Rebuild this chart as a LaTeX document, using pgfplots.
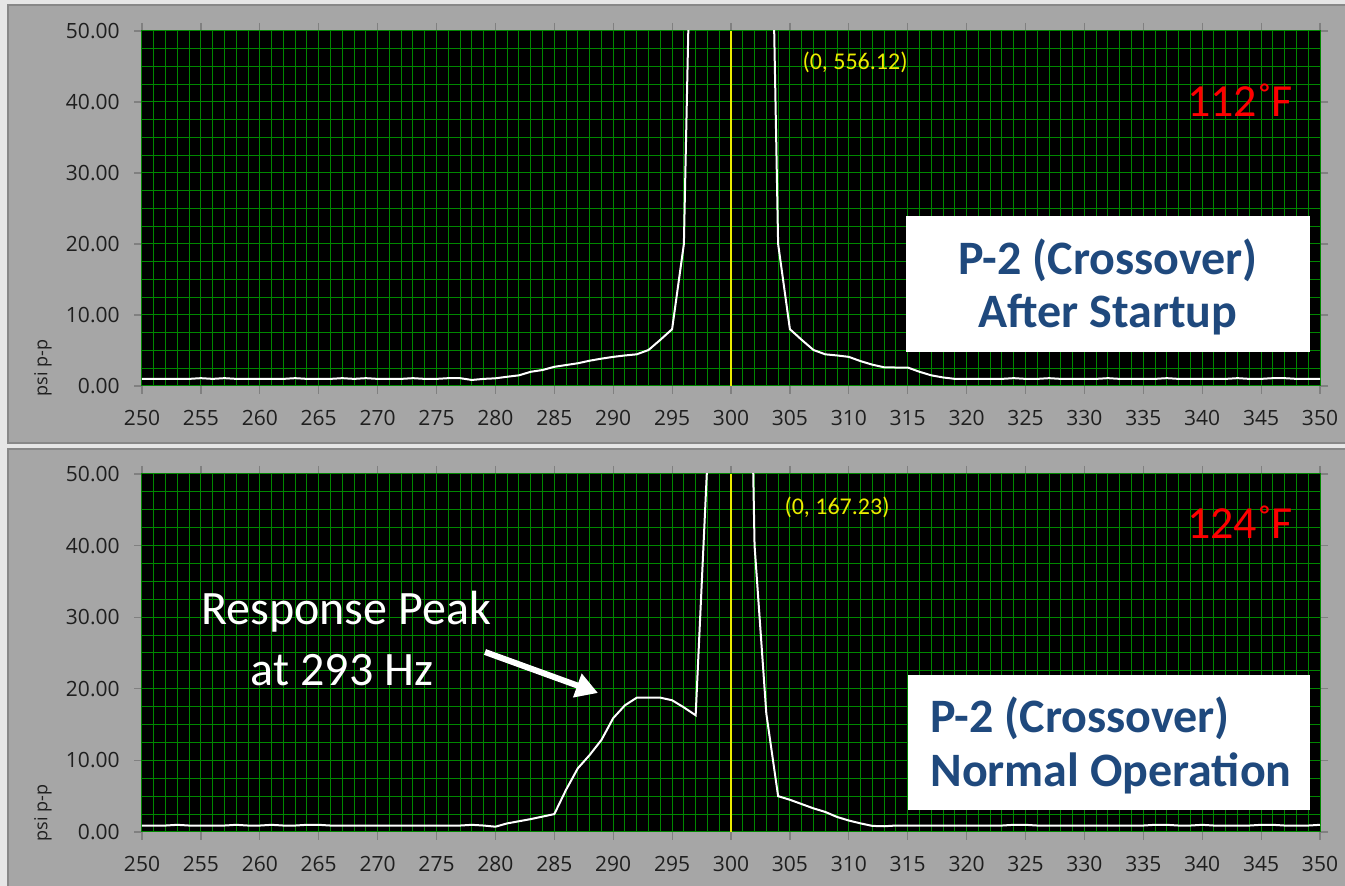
\documentclass[border=0pt]{standalone}
\usepackage{pgfplots}
\pgfplotsset{compat=1.18}
\usetikzlibrary{arrows.meta}
\usepackage{fontspec}
\setmainfont{Carlito}
\newfontfamily\tickfont{Open Sans}
\definecolor{gridgreen}{RGB}{0,135,0}
\definecolor{panelgray}{RGB}{166,166,166}
\definecolor{panelborder}{RGB}{136,136,136}
\definecolor{bgout}{RGB}{230,230,230}
\definecolor{navy}{RGB}{31,73,125}
\definecolor{ylw}{RGB}{235,235,0}
\definecolor{tickgray}{RGB}{128,128,128}
\pgfplotsset{
 panel/.style={
  width=589pt, scale only axis, xmin=250, xmax=350, ymin=0, ymax=50,
  xtick={250,255,...,350}, ytick={0,10,...,50},
  minor x tick num=4, minor y tick num=3,
  grid=both,
  major grid style={gridgreen, line width=0.5pt},
  minor grid style={gridgreen, line width=0.5pt},
  axis background/.style={fill=black},
  axis line style={gridgreen, line width=0.5pt},
  tick align=outside, major tick length=4pt, minor tick length=0pt,
  major tick style={tickgray, line width=0.6pt},
  tick label style={font=\tickfont\fontsize{10.5}{12}\selectfont, text=black!88, inner sep=0pt},
  /pgf/number format/assume math mode=true,
  y tick label style={xshift=-7pt, /pgf/number format/fixed,/pgf/number format/fixed zerofill,/pgf/number format/precision=2},
  x tick label style={yshift=-8pt, /pgf/number format/1000 sep={}},
  clip=true,
 }
}
\begin{document}
\begin{tikzpicture}
\useasboundingbox (0,0) rectangle (672.5pt,443pt);
\clip (0,0) rectangle (672.5pt,443pt);
\fill[bgout] (0,0) rectangle (672.5pt,443pt);
\filldraw[fill=panelgray, draw=panelborder, line width=1pt] (4pt,221.5pt) rectangle (700pt,440.5pt);
\filldraw[fill=panelgray, draw=panelborder, line width=1pt] (4pt,-10pt) rectangle (700pt,218.5pt);

% top panel
\begin{axis}[panel, height=177.5pt, at={(71pt,250pt)}, anchor=south west]
\addplot[ylw, line width=1pt] coordinates {(300,0) (300,50)};
\addplot[white, line width=1pt] coordinates {
(250,1.0)(251,1.0)(252,1.0)(253,1.0)(254,1.0)(255,1.1)(256,1.0)(257,1.1)(258,1.0)(259,1.0)
(260,1.0)(261,1.0)(262,1.0)(263,1.1)(264,1.0)(265,1.0)(266,1.0)(267,1.1)(268,1.0)(269,1.1)
(270,1.0)(271,1.0)(272,1.0)(273,1.1)(274,1.0)(275,1.0)(276,1.1)(277,1.1)(278,0.85)(279,1.0)
(280,1.08)(281,1.3)(282,1.5)(283,2.0)(284,2.25)(285,2.7)(286,2.95)(287,3.2)(288,3.56)(289,3.85)
(290,4.1)(291,4.3)(292,4.46)(293,5.07)(294,6.5)(295,8.0)(296,20)(297,100)(298,400)(299,520)
(300,556.12)(301,520)(302,400)(303,110)(304,20)(305,8.0)(306,6.5)(307,5.07)(308,4.46)(309,4.3)
(310,4.1)(311,3.5)(312,3.0)(313,2.63)(314,2.6)(315,2.6)(316,2.0)(317,1.5)(318,1.2)(319,1.0)
(320,1.0)(321,1.0)(322,1.0)(323,1.0)(324,1.1)(325,1.0)(326,1.0)(327,1.1)(328,1.0)(329,1.0)
(330,1.0)(331,1.0)(332,1.1)(333,1.0)(334,1.0)(335,1.0)(336,1.0)(337,1.1)(338,1.0)(339,1.0)
(340,1.0)(341,1.0)(342,1.0)(343,1.1)(344,1.0)(345,1.0)(346,1.1)(347,1.1)(348,1.0)(349,1.0)(350,1.0)};
\end{axis}

% bottom panel
\begin{axis}[panel, height=179pt, at={(71pt,27pt)}, anchor=south west]
\addplot[ylw, line width=1pt] coordinates {(300,0) (300,50)};
\addplot[white, line width=1pt] coordinates {
(250,0.9)(251,0.9)(252,0.9)(253,1.0)(254,0.9)(255,0.9)(256,0.9)(257,0.9)(258,1.0)(259,0.9)
(260,0.9)(261,1.0)(262,0.9)(263,0.9)(264,1.0)(265,1.0)(266,0.9)(267,0.9)(268,0.9)(269,0.9)
(270,0.9)(271,0.9)(272,0.9)(273,0.9)(274,0.9)(275,0.9)(276,0.9)(277,0.9)(278,1.0)(279,0.9)
(280,0.74)(281,1.2)(282,1.5)(283,1.8)(284,2.15)(285,2.5)(286,5.9)(287,8.9)(288,10.75)(289,12.85)
(290,15.9)(291,17.7)(292,18.76)(293,18.76)(294,18.76)(295,18.4)(296,17.4)(297,16.3)(298,52)(299,130)
(300,167.23)(301,130)(302,40)(303,16.5)(304,5.0)(305,4.5)(306,3.9)(307,3.3)(308,2.8)(309,2.1)
(310,1.6)(311,1.2)(312,0.85)(313,0.8)(314,0.9)(315,0.9)(316,0.9)(317,0.9)(318,0.9)(319,0.9)
(320,0.9)(321,0.9)(322,0.9)(323,0.9)(324,1.0)(325,1.0)(326,0.9)(327,0.9)(328,0.9)(329,0.9)
(330,0.9)(331,0.9)(332,0.9)(333,0.9)(334,0.9)(335,0.9)(336,1.0)(337,1.0)(338,0.9)(339,0.9)
(340,1.0)(341,0.9)(342,0.9)(343,0.9)(344,0.9)(345,1.0)(346,1.0)(347,0.9)(348,0.9)(349,0.9)(350,1.0)};
\end{axis}

% annotations
\node[font=\tickfont\fontsize{9}{10}\selectfont, rotate=90, text=black!88] at (21.5pt,259pt) {psi p-p};
\node[font=\tickfont\fontsize{9}{10}\selectfont, rotate=90, text=black!88] at (21.5pt,36.5pt) {psi p-p};
\node[font=\fontsize{12}{14}\selectfont, text=ylw] at (427.5pt,412pt) {(0, 556.12)};
\node[font=\fontsize{12}{14}\selectfont, text=ylw] at (418.5pt,189.5pt) {(0, 167.23)};
\node[font=\fontsize{23}{26}\selectfont, text=red] at (620pt,393pt) {112˚F};
\node[font=\fontsize{23}{26}\selectfont, text=red] at (620pt,182pt) {124˚F};
\fill[white] (453pt,267pt) rectangle (655pt,335pt);
\node[font=\fontsize{24}{28}\selectfont\bfseries, text=navy] at (554pt,313pt) {P-2 (Crossover)};
\node[font=\fontsize{24}{28}\selectfont\bfseries, text=navy] at (554pt,285.5pt) {After Startup};
\fill[white] (454pt,38pt) rectangle (655pt,105.5pt);
\node[font=\fontsize{24}{28}\selectfont\bfseries, text=navy, anchor=west, inner sep=0pt] at (465pt,84pt) {P-2 (Crossover)};
\node[font=\fontsize{24}{28}\selectfont\bfseries, text=navy, anchor=west, inner sep=0pt] at (465pt,56.5pt) {Normal Operation};
\node[font=\fontsize{24}{28}\selectfont, text=white] at (173pt,137pt) {Response Peak};
\node[font=\fontsize{24}{28}\selectfont, text=white] at (171pt,108pt) {at 293 Hz};
\draw[white, line width=3pt, -{Triangle[length=11pt,width=12pt]}] (242.5pt,117pt) -- (299pt,96.5pt);
\end{tikzpicture}
\end{document}
